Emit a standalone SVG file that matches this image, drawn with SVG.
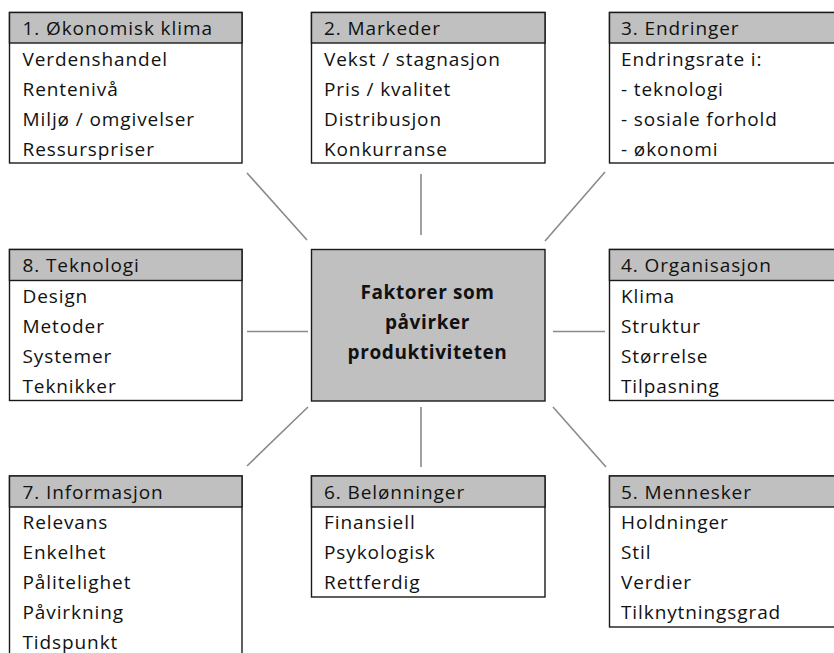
<svg xmlns="http://www.w3.org/2000/svg" width="834" height="653" viewBox="0 0 834 653">
<style>
.box{fill:#ffffff;stroke:#1a1a1a;stroke-width:1.4}
.hdr{fill:#c0c0c0;stroke:#1a1a1a;stroke-width:1.4}
.t{font-family:"Open Sans","Liberation Sans",Arial,sans-serif;font-size:19px;letter-spacing:0.9px;fill:#111111}
.c{font-family:"Open Sans","Liberation Sans",Arial,sans-serif;font-size:19px;letter-spacing:0.6px;font-weight:bold;fill:#111111;text-anchor:middle}
.ln{stroke:#8a8a8a;stroke-width:1.6;fill:none}
</style>
<rect width="834" height="653" fill="#ffffff"/>
<g id="connectors">
<line class="ln" x1="247" y1="173" x2="307" y2="240"/>
<line class="ln" x1="421" y1="174" x2="421" y2="235"/>
<line class="ln" x1="605" y1="172" x2="545" y2="241"/>
<line class="ln" x1="247" y1="331.5" x2="308" y2="331.5"/>
<line class="ln" x1="553" y1="331.5" x2="605" y2="331.5"/>
<line class="ln" x1="308" y1="407" x2="247" y2="466"/>
<line class="ln" x1="421" y1="407" x2="421" y2="467"/>
<line class="ln" x1="553" y1="407" x2="606" y2="467"/>
</g>
<g id="n1">
<rect class="box" x="9.5" y="12.5" width="232.5" height="150.5"/>
<rect class="hdr" x="9.5" y="12.5" width="232.5" height="30.5"/>
<text class="t" x="22.5" y="35">1. Økonomisk klima</text>
<text class="t" x="22.5" y="66">Verdenshandel</text>
<text class="t" x="22.5" y="96">Rentenivå</text>
<text class="t" x="22.5" y="126">Miljø / omgivelser</text>
<text class="t" x="22.5" y="156">Ressurspriser</text>
</g>
<g id="n2">
<rect class="box" x="311.5" y="12.5" width="233.5" height="150.5"/>
<rect class="hdr" x="311.5" y="12.5" width="233.5" height="30.5"/>
<text class="t" x="324" y="35">2. Markeder</text>
<text class="t" x="324" y="66">Vekst / stagnasjon</text>
<text class="t" x="324" y="96">Pris / kvalitet</text>
<text class="t" x="324" y="126">Distribusjon</text>
<text class="t" x="324" y="156">Konkurranse</text>
</g>
<g id="n3">
<rect class="box" x="609.5" y="12.5" width="240" height="150.5"/>
<rect class="hdr" x="609.5" y="12.5" width="240" height="30.5"/>
<text class="t" x="621" y="35">3. Endringer</text>
<text class="t" x="621" y="66">Endringsrate i:</text>
<text class="t" x="621" y="96">- teknologi</text>
<text class="t" x="621" y="126">- sosiale forhold</text>
<text class="t" x="621" y="156">- økonomi</text>
</g>
<g id="n8">
<rect class="box" x="9.5" y="249.5" width="232.5" height="151"/>
<rect class="hdr" x="9.5" y="249.5" width="232.5" height="31"/>
<text class="t" x="22.5" y="272">8. Teknologi</text>
<text class="t" x="22.5" y="303">Design</text>
<text class="t" x="22.5" y="333">Metoder</text>
<text class="t" x="22.5" y="363">Systemer</text>
<text class="t" x="22.5" y="393">Teknikker</text>
</g>
<g id="center">
<rect class="hdr" x="311.5" y="249.5" width="233.5" height="151.5"/>
<text class="c" x="427.5" y="298.5">Faktorer som</text>
<text class="c" x="427.5" y="329">påvirker</text>
<text class="c" x="427.5" y="358.5">produktiviteten</text>
</g>
<g id="n4">
<rect class="box" x="609.5" y="249.5" width="240" height="151"/>
<rect class="hdr" x="609.5" y="249.5" width="240" height="31"/>
<text class="t" x="621" y="272">4. Organisasjon</text>
<text class="t" x="621" y="303">Klima</text>
<text class="t" x="621" y="333">Struktur</text>
<text class="t" x="621" y="363">Størrelse</text>
<text class="t" x="621" y="393">Tilpasning</text>
</g>
<g id="n7">
<rect class="box" x="9.5" y="476" width="232.5" height="190"/>
<rect class="hdr" x="9.5" y="476" width="232.5" height="31"/>
<text class="t" x="22.5" y="498.5">7. Informasjon</text>
<text class="t" x="22.5" y="529">Relevans</text>
<text class="t" x="22.5" y="559">Enkelhet</text>
<text class="t" x="22.5" y="589">Pålitelighet</text>
<text class="t" x="22.5" y="619">Påvirkning</text>
<text class="t" x="22.5" y="649">Tidspunkt</text>
</g>
<g id="n6">
<rect class="box" x="311.5" y="476" width="233.5" height="121"/>
<rect class="hdr" x="311.5" y="476" width="233.5" height="31"/>
<text class="t" x="324" y="498.5">6. Belønninger</text>
<text class="t" x="324" y="529">Finansiell</text>
<text class="t" x="324" y="559">Psykologisk</text>
<text class="t" x="324" y="589">Rettferdig</text>
</g>
<g id="n5">
<rect class="box" x="609.5" y="476" width="240" height="151"/>
<rect class="hdr" x="609.5" y="476" width="240" height="31"/>
<text class="t" x="621" y="498.5">5. Mennesker</text>
<text class="t" x="621" y="529">Holdninger</text>
<text class="t" x="621" y="559">Stil</text>
<text class="t" x="621" y="589">Verdier</text>
<text class="t" x="621" y="619">Tilknytningsgrad</text>
</g>
</svg>
